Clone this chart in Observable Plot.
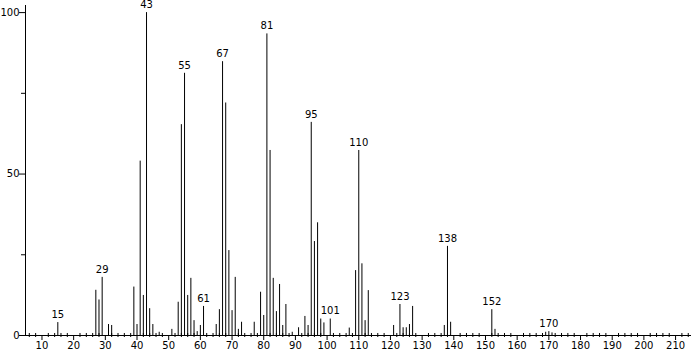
<!DOCTYPE html>
<html>
<head>
<meta charset="utf-8">
<script src="https://cdn.jsdelivr.net/npm/d3@7"></script>
<script src="https://cdn.jsdelivr.net/npm/@observablehq/plot@0.6"></script>
<style>
  html, body { margin: 0; padding: 0; background: #fff; }
  #chart svg { display: block; }
</style>
</head>
<body>
<div id="chart"></div>
<script>
// m/z values and relative intensities (%)
const mz = [15,27,28,29,31,32,39,40,41,42,43,44,45,47,51,53,54,55,56,57,58,59,60,61,65,66,67,68,69,70,71,72,73,77,79,80,81,82,83,84,85,86,87,89,91,93,94,95,96,97,98,99,101,107,109,110,111,112,113,121,123,124,125,126,127,137,138,139,152,153,169,170,171];
const intensity = [4,14,11,18,3.4,3.1,15,3.4,54,12.4,100,8.3,3.4,1,1.9,10.3,65.3,81.2,12.4,17.7,4.6,1.2,3.1,9,3.4,8,84.8,72,26.3,7.7,18,1.9,4.1,4.1,13.4,6.2,93.4,57.3,17.7,7.4,15.8,3.1,9.6,1,2.4,5.9,3.1,66,29.1,34.9,5.1,3.9,5.1,2.3,20.1,57.3,22.2,4.6,13.9,3.1,9.6,2.4,2.4,3.4,9,3.1,27.6,4.1,8,1.9,1,1.2,0.8];
// labelled peaks
const labelMz = [15,29,43,55,61,67,81,95,101,110,123,138,152,170];
// axis ticks
const xTicks = d3.range(10, 211, 10);
const xMinorTicks = d3.range(6, 215, 2).filter(v => v % 10 !== 0);
const yTicks = [0, 50, 100];
const yMinorTicks = [25, 75];

const peaks = mz.map((m, i) => ({mz: m, intensity: intensity[i]}));
const labels = labelMz.map(m => ({mz: m, intensity: intensity[mz.indexOf(m)]}));

const font = "DejaVu Sans, sans-serif";

const chart = Plot.plot({
  width: 691,
  height: 353,
  marginLeft: 25,
  marginRight: 0,
  marginTop: 5,
  marginBottom: 18,
  style: {fontFamily: font, fontSize: "10px", color: "#000", background: "#fff"},
  x: {domain: [4.8, 215.03], label: null},
  y: {domain: [0, 102.2], label: null},
  marks: [
    Plot.ruleX(peaks, {x: "mz", y1: 0, y2: "intensity", stroke: "#000", strokeWidth: 1}),
    Plot.text(labels, {x: "mz", y: "intensity", text: d => String(d.mz), dy: -8, fill: "#000", fontSize: 10}),
    Plot.ruleY([0], {stroke: "#000"}),
    Plot.ruleX([4.8], {stroke: "#000"}),
    // minor ticks cross the baseline slightly
    Plot.ruleX(xMinorTicks, {x: d => d, y1: 0, y2: 0.62, stroke: "#000"}),
    Plot.axisX({ticks: xTicks, tickSize: 5, tickPadding: 1, stroke: "#000", fontSize: 10, label: null}),
    Plot.axisX({ticks: xMinorTicks, tickSize: 2, tickFormat: () => "", stroke: "#000", label: null}),
    Plot.axisY({ticks: yTicks, tickSize: 6, tickPadding: 0, stroke: "#000", fontSize: 10, label: null}),
    Plot.axisY({ticks: yMinorTicks, tickSize: 4, tickFormat: () => "", stroke: "#000", label: null})
  ]
});
document.getElementById("chart").appendChild(chart);
</script>
</body>
</html>
